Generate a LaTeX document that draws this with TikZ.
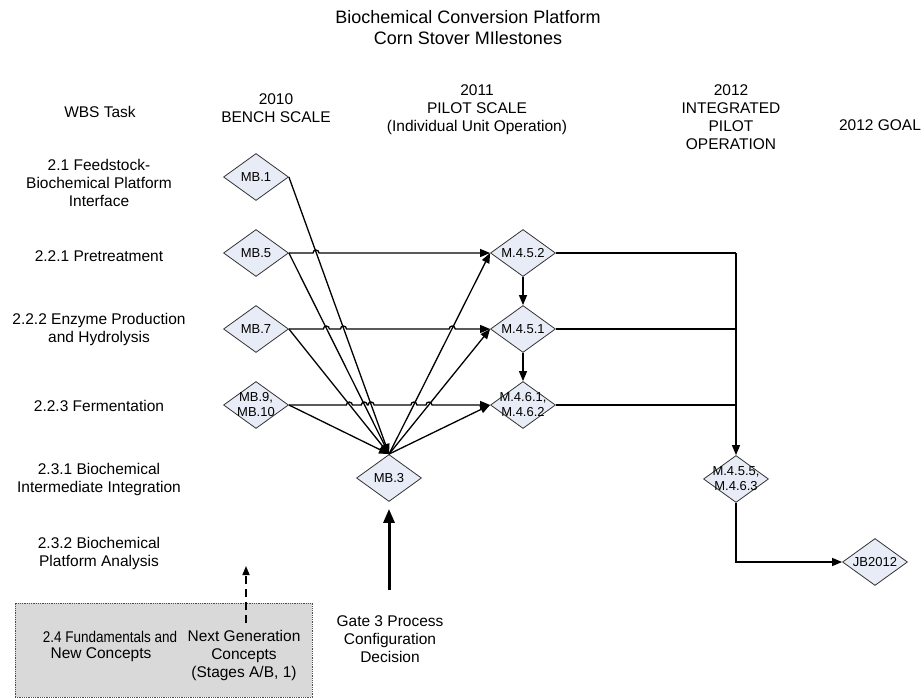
\documentclass[tikz,border=0pt]{standalone}
\usepackage{fontspec}
\setmainfont{Liberation Sans}
\usetikzlibrary{shapes.geometric,arrows.meta}
\definecolor{diafill}{HTML}{E8ECF6}
\definecolor{boxfill}{HTML}{D9D9D9}
\tikzset{
  dia/.style={diamond, draw=black!80, fill=diafill, line width=0.8pt,
    minimum width=65pt, minimum height=47pt, inner sep=0pt},
  dlabel/.style={font=\fontsize{13}{15}\selectfont, align=center, inner sep=0pt},
  txt/.style={font=\fontsize{15.5}{18}\selectfont, align=center, inner sep=0pt},
  ttl/.style={font=\fontsize{18}{21}\selectfont, align=center, inner sep=0pt},
  conn/.style={line width=1.3pt, -{Triangle[length=10pt,width=8pt]}},
  plain/.style={line width=1.3pt},
}
\begin{document}
\begin{tikzpicture}[x=1pt,y=-1pt]
\useasboundingbox (0,0) rectangle (924,698);

% titles and column headings
\node[ttl] (title) at (468,28) {Biochemical Conversion Platform\\Corn Stover MIlestones};
\node[txt] (hwbs)  at (100,112) {WBS Task};
\node[txt] (h2010) at (276,108) {2010\\BENCH SCALE};
\node[txt] (h2011) at (477,110) {2011\\PILOT SCALE\\(Individual Unit Operation)};
\node[txt] (h2012) at (731,117) {2012\\INTEGRATED\\PILOT\\OPERATION};
\node[txt] (hgoal) at (880,125) {2012 GOAL};

% WBS rows
\node[txt] (r21)  at (99,183) {2.1 Feedstock-\\Biochemical Platform\\Interface};
\node[txt] (r221) at (99,256) {2.2.1 Pretreatment};
\node[txt] (r222) at (99,329) {2.2.2 Enzyme Production\\and Hydrolysis};
\node[txt] (r223) at (99,406) {2.2.3 Fermentation};
\node[txt] (r231) at (99,479) {2.3.1 Biochemical\\Intermediate Integration};
\node[txt] (r232) at (99,553) {2.3.2 Biochemical\\Platform Analysis};

% milestone diamonds
\node[dia, label={[dlabel]center:MB.1}] (mb1) at (256,177) {};
\node[dia, label={[dlabel]center:MB.5}] (mb5) at (256,253) {};
\node[dia, label={[dlabel]center:MB.7}] (mb7) at (256,329) {};
\node[dia, label={[dlabel]center:{MB.9,\\MB.10}}] (mb9) at (256,405) {};
\node[dia, label={[dlabel]center:MB.3}] (mb3) at (389,478) {};
\node[dia, label={[dlabel]center:M.4.5.2}] (m452) at (523,253) {};
\node[dia, label={[dlabel]center:M.4.5.1}] (m451) at (523,329) {};
\node[dia, label={[dlabel]center:{M.4.6.1,\\M.4.6.2}}] (m461) at (523,405) {};
\node[dia, label={[dlabel]center:{M.4.5.5,\\M.4.6.3}}] (m455) at (736,479) {};
\node[dia, label={[dlabel]center:JB2012}] (jb) at (875,562) {};

% bench-scale milestones feed the integration milestone
\draw[conn] (mb1.east) -- (mb3.north);
\draw[conn] (mb5.east) -- (mb3.north);
\draw[conn] (mb7.east) -- (mb3.north);
\draw[conn] (mb9.east) -- (mb3.north);

% integration milestone feeds the pilot-scale milestones
\draw[conn] (mb3.north) -- (m452.west);
\draw[conn] (mb3.north) -- (m451.west);
\draw[conn] (mb3.north) -- (m461.west);

% direct links with line hops over the diagonals
\draw[conn] (mb5.east) -- (313,253) arc[start angle=180,end angle=0,radius=3pt]
  -- (m452.west);
\draw[conn] (mb7.east) -- (323.4,329) arc[start angle=180,end angle=0,radius=3pt]
  -- (340.5,329) arc[start angle=180,end angle=0,radius=3pt]
  -- (449.2,329) arc[start angle=180,end angle=0,radius=3pt]
  -- (m451.west);
\draw[conn] (mb9.east) -- (346.4,405) arc[start angle=180,end angle=0,radius=3pt]
  -- (361.3,405) arc[start angle=180,end angle=0,radius=3pt]
  -- (368.1,405) arc[start angle=180,end angle=0,radius=3pt]
  -- (410.9,405) arc[start angle=180,end angle=0,radius=3pt]
  -- (426,405) arc[start angle=180,end angle=0,radius=3pt]
  -- (m461.west);

% pilot-scale chain
\draw[conn] (m452.south) -- (m451.north);
\draw[conn] (m451.south) -- (m461.north);

% pilot milestones merge into integrated operation
\coordinate (j1) at (736,253);
\coordinate (j2) at (736,329);
\coordinate (j3) at (736,405);
\draw[plain] (m452.east) -- (j1);
\draw[plain] (m451.east) -- (j2);
\draw[plain] (m461.east) -- (j3);
\draw[conn] (j1) -- (m455.north);

% integrated operation to the goal
\draw[conn] (m455.south) |- (jb.west);

% process configuration decision
\node[txt] (gate) at (390,639) {Gate 3 Process\\Configuration\\Decision};
\coordinate (gbase) at (389,590);
\draw[line width=3pt, -{Triangle[length=14pt,width=11pt]}, shorten >=7pt] (gbase) -- (mb3.south);

% fundamentals box
\node[draw=black!70, densely dotted, fill=boxfill, line width=0.8pt,
  minimum width=297pt, minimum height=94pt, inner sep=0pt] (fund) at (163.5,650) {};
\node[txt] (r24a) at (110,637) {\scalebox{0.87}[1]{2.4 Fundamentals and}};
\node[txt] (r24b) at (101,655) {New Concepts};
\node[txt] (next) at (244,655) {Next Generation\\Concepts\\(Stages A/B, 1)};
\coordinate (nbase) at (246,623);
\draw[line width=1.5pt, dash pattern=on 8pt off 5pt, -{Triangle[length=9pt,width=7pt]}] (nbase) -- (246,566);
\end{tikzpicture}
\end{document}
